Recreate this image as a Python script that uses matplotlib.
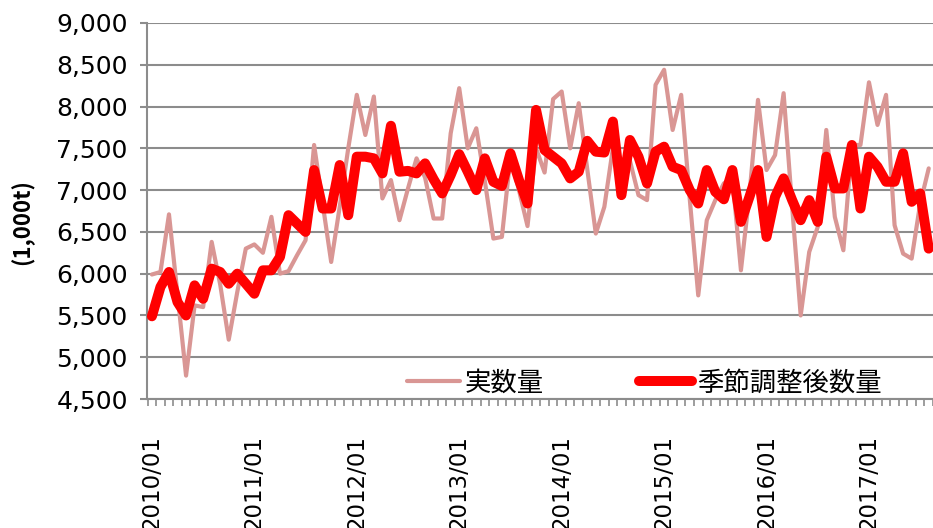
import numpy as np
import matplotlib
matplotlib.use("Agg")
import matplotlib.pyplot as plt
from matplotlib.ticker import FuncFormatter

plt.rcParams['font.family'] = ['DejaVu Sans', 'Noto Sans CJK JP']

# Monthly data 2010/01 - 2017/08 (unit: 1,000t)
actual = [
    5990, 6020, 6710, 5750, 4780, 5620, 5600, 6380, 5870, 5210, 5780, 6300,  # 2010
    6350, 6250, 6680, 6000, 6030, 6220, 6400, 7540, 6840, 6140, 6800, 7500,  # 2011
    8140, 7660, 8120, 6900, 7120, 6640, 7020, 7380, 7150, 6660, 6660, 7680,  # 2012
    8220, 7500, 7740, 7110, 6420, 6440, 7400, 7000, 6570, 7500, 7210, 8090,  # 2013
    8180, 7500, 8040, 7250, 6480, 6800, 7500, 7200, 7350, 6940, 6880, 8260,  # 2014
    8440, 7720, 8140, 6900, 5740, 6640, 6880, 7080, 7150, 6040, 6950, 8080,  # 2015
    7240, 7420, 8160, 6800, 5500, 6260, 6560, 7720, 6680, 6280, 7540, 7540,  # 2016
    8290, 7780, 8140, 6580, 6240, 6180, 6840, 7260,                          # 2017
]
adjusted = [
    5490, 5840, 6020, 5660, 5500, 5860, 5700, 6060, 6020, 5880, 6000, 5880,
    5760, 6040, 6040, 6200, 6700, 6600, 6500, 7240, 6780, 6780, 7300, 6700,
    7400, 7400, 7380, 7200, 7770, 7220, 7230, 7200, 7320, 7130, 6960, 7180,
    7430, 7220, 7000, 7380, 7100, 7050, 7440, 7120, 6840, 7960, 7480, 7400,
    7320, 7140, 7220, 7590, 7460, 7450, 7820, 6940, 7600, 7400, 7080, 7460,
    7520, 7280, 7240, 7000, 6840, 7240, 6980, 6890, 7240, 6620, 6920, 7240,
    6440, 6920, 7140, 6880, 6640, 6880, 6620, 7400, 7020, 7020, 7540, 6780,
    7400, 7280, 7100, 7100, 7440, 6860, 6960, 6300,
]
year_labels = ["2010/01", "2011/01", "2012/01", "2013/01",
               "2014/01", "2015/01", "2016/01", "2017/01"]
series_names = ["実数量", "季節調整後数量"]
y_label = "(1,000t)"

W, H = 933, 528
fig = plt.figure(figsize=(W / 100, H / 100), dpi=100)
left_px, top_px, bottom_px = 147.3, 23, 399
ax = fig.add_axes([left_px / W, 1 - bottom_px / H, 1 - left_px / W, (bottom_px - top_px) / H])

x = np.arange(len(actual))
ax.plot(x, actual, color='#D99694', lw=3.0, label=series_names[0],
        solid_joinstyle='round', solid_capstyle='round', zorder=2)
ax.plot(np.arange(len(adjusted)), adjusted, color='#FF0000', lw=7.2, label=series_names[1],
        solid_joinstyle='round', solid_capstyle='round', zorder=3)

ax.set_ylim(4500, 9000)
ax.set_yticks(np.arange(4500, 9001, 500))
ax.yaxis.set_major_formatter(FuncFormatter(lambda v, p: f"{int(v):,}"))
ax.grid(axis='y', color='#8C8C8C', lw=1.5)
ax.set_axisbelow(True)

ax.set_xlim(-0.54, 91.25)
ax.set_xticks(np.arange(len(year_labels)) * 12)
ax.set_xticklabels(year_labels, rotation=90, va='top', ha='center')
ax.set_xticks(np.arange(-0.5, 92, 1), minor=True)
ax.tick_params(axis='x', which='major', length=0, pad=26, labelsize=16.5)
ax.tick_params(axis='x', which='minor', length=5, width=1.2, color='#8C8C8C')
ax.tick_params(axis='y', length=5, width=1.5, color='#8C8C8C', pad=9, labelsize=18)

for s in ['top', 'right']:
    ax.spines[s].set_visible(False)
for s in ['left', 'bottom']:
    ax.spines[s].set_color('#8C8C8C')
    ax.spines[s].set_linewidth(1.5)

fig.text(22 / W, 1 - 222 / H, y_label, rotation=90, ha='center', va='center',
         fontsize=16, fontweight='bold', family=['Noto Sans CJK JP', 'DejaVu Sans'])

leg = ax.legend(loc='center left', bbox_to_anchor=(407 / W, 1 - 383 / H),
                bbox_transform=fig.transFigure, ncol=2, frameon=False,
                prop={'family': ['Noto Sans CJK JP', 'DejaVu Sans'], 'size': 19},
                handlelength=2.0, handletextpad=0.2, columnspacing=3.6,
                borderpad=0, borderaxespad=0)

fig.savefig("out.png", dpi=100)
